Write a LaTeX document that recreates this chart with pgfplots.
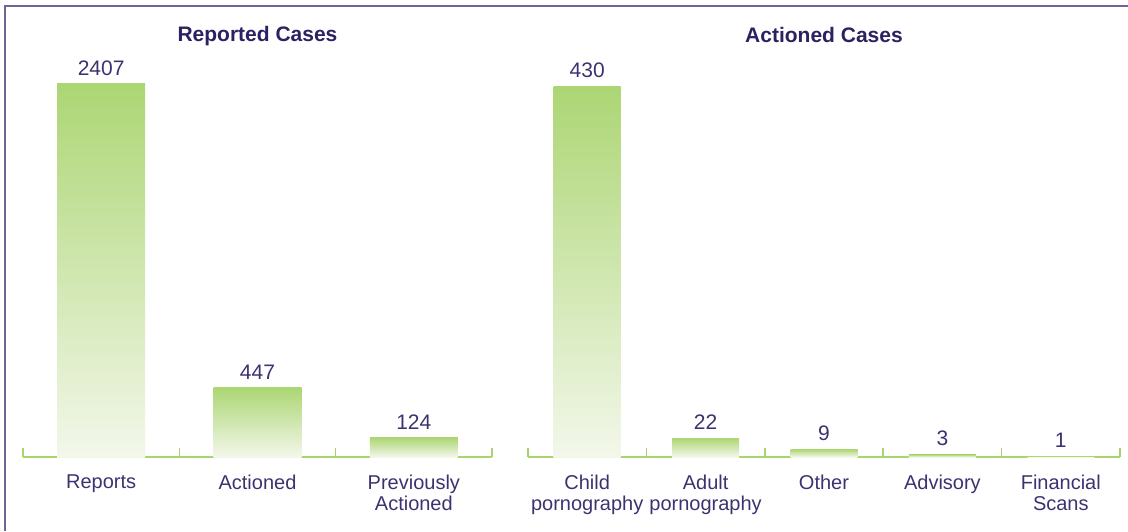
\documentclass[border=0pt]{standalone}
\usepackage{fontspec}
\setmainfont{Liberation Sans}
\usepackage{pgfplots}
\pgfplotsset{compat=1.18}

\definecolor{navy}{HTML}{2B2262}
\definecolor{labelc}{HTML}{3A3371}
\definecolor{framec}{HTML}{6E6496}
\definecolor{bartop}{HTML}{ACD674}
\definecolor{barbot}{HTML}{F3F7EA}
\definecolor{baseg}{HTML}{A8D66E}

\pgfplotsset{
  /pgf/number format/1000 sep={},
  /pgf/number format/assume math mode=true,
  cases/.style={
    scale only axis, clip=false,
    axis y line=none, axis x line*=bottom,
    x axis line style={-, draw=baseg, line width=1.5pt},
    ymin=0,
    major tick length=0pt, minor tick length=9pt, tick align=inside,
    minor tick style={draw=baseg, line width=1.5pt},
    xticklabel style={font=\fontsize{20}{21}\selectfont, text=labelc, align=center, yshift=-14pt},
    title style={font=\bfseries\fontsize{21}{22}\selectfont, text=navy, at={(0.5,1)}, anchor=base},
    nodes near coords,
    nodes near coords style={font=\fontsize{21}{22}\selectfont, text=labelc, yshift=5pt},
    bar/.style={ybar, bar shift=0pt, draw=none, top color=bartop, bottom color=barbot},
  },
}

\begin{document}
\begin{tikzpicture}
\useasboundingbox (0,0) rectangle (1128pt,531pt);
\draw[framec, line width=2pt] (5pt,0pt) -- (5pt,525pt) -- (1128pt,525pt);

\begin{axis}[cases,
    at={(23pt,74pt)}, anchor=south west,
    width=469pt, height=373pt,
    xmin=0.5, xmax=3.5, ymax=2407,
    xtick={1,2,3},
    xticklabels={Reports, Actioned, {Previously\\Actioned}},
    minor xtick={0.5,1.5,2.5,3.5},
    title={Reported Cases}, title style={yshift=36pt},
    bar width=88pt,
  ]
  \addplot[bar] coordinates {(1,2407)};
  \addplot[bar] coordinates {(2,447)};
  \addplot[bar] coordinates {(3,124)};
\end{axis}

\begin{axis}[cases,
    at={(528pt,74pt)}, anchor=south west,
    width=592pt, height=371pt,
    xmin=0.5, xmax=5.5, ymax=430,
    xtick={1,2,3,4,5},
    xticklabels={{Child\\pornography}, {Adult\\pornography}, Other, Advisory, {Financial\\Scans}},
    minor xtick={0.5,1.5,2.5,3.5,4.5,5.5},
    title={Actioned Cases}, title style={yshift=38pt},
    bar width=67pt,
  ]
  \addplot[bar] coordinates {(1,430)};
  \addplot[bar] coordinates {(2,22)};
  \addplot[bar] coordinates {(3,9)};
  \addplot[bar] coordinates {(4,3)};
  \addplot[bar] coordinates {(5,1)};
\end{axis}
\end{tikzpicture}
\end{document}
